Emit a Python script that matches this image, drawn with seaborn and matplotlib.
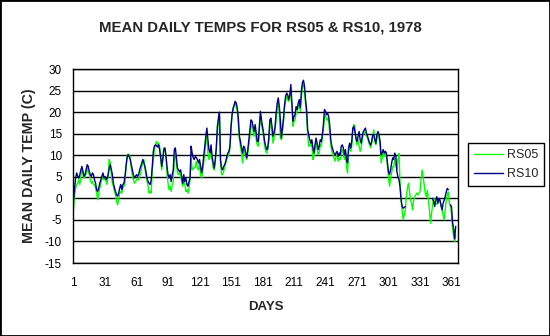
import numpy as np
import pandas as pd
import matplotlib
matplotlib.use("Agg")
import matplotlib.pyplot as plt
from matplotlib.patches import Rectangle
import seaborn as sns

nan = np.nan

series_names = ["RS05", "RS10"]
series_colors = ["#00FF00", "#000080"]
x_tick_days = list(range(1, 362, 30))
y_ticks = list(range(-15, 31, 5))

rs10 = [
    -0.3, 2.4, 4.7, 5.9, 5.1, 4.7, 5.5, 6.6, 7.4, 6.2,
    5.1, 5.5, 6.6, 7.8, 7.4, 6.2, 5.5, 5.1, 5.9, 5.5,
    4.3, 3.5, 2.0, 1.6, 2.4, 3.5, 4.3, 5.1, 5.9, 4.7,
    5.1, 4.3, 4.7, 5.5, 7.0, 7.8, 6.6, 5.5, 3.5, 2.4,
    1.6, 0.8, 0.5, 1.2, 2.4, 3.2, 2.0, 3.2, 3.5, 5.1,
    7.4, 9.4, 10.1, 9.7, 9.0, 7.8, 6.6, 5.5, 4.7, 5.1,
    5.5, 5.1, 5.5, 6.6, 7.4, 8.2, 9.0, 8.2, 7.4, 6.2,
    4.7, 3.9, 3.5, 3.2, 4.3, 7.4, 10.9, 12.1, 12.4, 12.2,
    11.9, 12.4, 11.3, 9.7,
    7.4, 9.0, 11.3, 11.7, 10.1, 7.4,
    5.5, 4.7, 5.5, 3.9, 5.5, 6.6, 11.3, 11.7, 9.4, 7.0,
    6.6, 6.2, 6.6, 5.1, 3.5, 5.5, 3.9, 4.7, 3.2, 2.8,
    3.9, 4.7, 12.1, 10.5, 9.4, 9.0, 9.7, 9.4, 9.0, 8.2,
    9.0, 7.4, 5.9, 7.4, 9.7, 12.1, 14.4, 16.3, 13.6, 11.3,
    10.5, 12.4, 9.7, 8.2, 7.0, 9.0, 11.7, 16.7, 18.6, 20.0,
    9.0, 7.0, 6.6, 7.4, 7.8, 8.6, 9.7, 10.5, 10.9, 12.1,
    16.7, 19.4, 20.9, 21.7, 22.5, 22.1, 20.9, 18.6, 14.4, 13.2,
    11.7, 10.5, 12.1, 11.7, 10.5, 9.4, 11.3, 13.6, 15.9, 18.2,
    17.9, 16.7, 15.5, 17.1, 15.2, 13.2, 13.2, 16.7, 20.2, 18.2,
    16.7, 15.2, 13.2, 12.1, 11.3, 11.7, 14.0, 18.2, 18.6, 16.7,
    14.4, 15.2, 16.7, 19.8, 22.1, 23.3, 21.3, 18.2, 14.0, 16.3,
    18.6, 21.7, 23.7, 24.4, 24.0, 22.9, 24.0, 26.4, 22.1, 17.9,
    19.0, 19.4, 21.3, 20.6, 22.1, 22.9, 21.0, 24.8, 26.8, 27.4,
    26.0, 22.9, 20.6, 15.9, 14.8, 13.6, 12.8, 13.6, 11.7, 10.5,
    12.4, 14.0, 12.8, 11.3, 12.1, 13.6, 13.2, 14.8, 17.1, 20.6,
    20.2, 19.4, 19.8, 19.0, 17.1, 13.6, 12.1, 11.3, 10.5, 10.1,
    10.5, 10.9, 9.7, 10.5, 10.1,
    12.1, 12.4, 11.7, 10.1, 11.3, 9.0, 8.2, 11.7, 12.8, 11.7,
    13.2, 16.3, 16.7, 15.5, 14.0, 13.2, 14.4, 15.5, 13.6, 12.8,
    14.4, 15.5, 15.9, 16.3, 15.1, 14.4, 13.6, 12.8, 12.4, 13.2,
    14.8, 14.8, 13.6, 12.8, 14.8, 15.5, 14.8, 13.2, 10.1, 10.5,
    11.3, 10.5, 10.9, 10.5, 8.2, 6.2, 5.5, 6.6, 8.2, 9.4,
    9.0, 10.5, 9.7, 6.2, 5.0, 4.3, 2.7, -0.3, -1.9, -2.3, -2.1, -1.9,
    nan, nan, nan, nan, nan, nan, nan, nan, nan, nan,
    nan, nan, nan, nan, nan, nan, nan, nan, nan, nan,
    nan, nan, nan, nan, nan,
    0.0, -0.8, -1.9, -0.4, 0.4, -1.2, 0.0, -0.4, -1.5, -2.7,
    -1.2, -0.4, 0.4, 1.5, 2.3, 2.0,
    nan,
    -1.5, -1.9, -5.5, -7.0, -9.4, -6.5,
]

rs05 = [
    -2.6, 0.5, 2.4, 3.2, 3.5, 4.3, 3.2, 5.1, 6.6, 5.5,
    4.7, 5.1, 5.9, 7.0, 6.2, 5.5, 4.3, 3.5, 3.9, 3.2,
    3.2, 2.4, 1.2, -0.3, 1.2, 2.4, 3.5, 4.3, 5.1, 4.3,
    4.7, 3.9, 3.2, 5.5, 9.0, 8.2, 5.5, 3.5, 2.8, 1.6,
    0.8, -0.7, -1.5, -0.3, 1.2, 1.6, 1.2, 2.4, 2.8, 3.5,
    7.4, 9.7, 10.3, 10.1, 9.4, 7.0, 5.5, 4.3, 3.5, 3.9,
    4.3, 4.7, 4.3, 5.1, 5.9, 7.4, 8.2, 9.0, 7.0, 5.1,
    3.9, 2.8, 1.2, 1.6, 1.2, 6.6, 9.0, 11.3, 12.4, 13.2,
    12.4, 12.8, 12.1, 9.0,
    6.6, 9.0, 11.7, 11.3, 10.1, 5.9,
    3.5, 2.0, 2.8, 1.6, 3.2, 3.9, 9.7, 10.1, 8.2, 5.9,
    5.5, 6.2, 5.1, 3.9, 2.8, 4.3, 3.2, 1.6, 2.0, 1.2,
    2.4, 4.3, 9.4, 6.6, 7.0, 7.0, 7.4, 8.6, 7.0, 6.6,
    8.2, 5.5, 4.7, 6.2, 8.2, 10.5, 13.2, 14.4, 10.5, 9.0,
    9.4, 10.9, 9.0, 7.0, 6.6, 8.2, 11.7, 15.5, 17.1, 19.0,
    8.2, 5.5, 5.5, 6.2, 7.4, 8.2, 9.0, 9.7, 10.1, 11.7,
    15.9, 19.4, 20.6, 21.3, 22.3, 21.3, 20.2, 17.1, 13.6, 12.1,
    10.5, 8.2, 11.3, 10.5, 9.7, 9.0, 10.5, 12.4, 14.4, 17.1,
    16.7, 15.5, 14.4, 15.9, 13.6, 12.4, 12.1, 15.9, 19.0, 17.1,
    15.9, 14.4, 12.1, 10.9, 10.5, 11.3, 13.2, 16.7, 17.9, 15.5,
    12.8, 14.0, 15.9, 18.6, 21.0, 22.1, 19.4, 14.0, 13.6, 15.5,
    17.9, 21.0, 22.5, 23.7, 22.9, 22.5, 23.3, 24.4, 21.3, 16.7,
    17.9, 18.2, 19.8, 20.2, 21.0, 22.1, 20.2, 23.3, 26.0, 26.4,
    25.2, 21.7, 19.4, 14.8, 12.1, 12.4, 12.1, 12.8, 9.0, 9.7,
    11.3, 13.2, 11.3, 10.1, 10.5, 12.4, 12.1, 14.0, 15.9, 19.0,
    19.4, 18.2, 18.6, 17.5, 15.5, 12.4, 10.9, 10.1, 9.4, 8.6,
    9.7, 10.1, 8.6, 9.4, 9.0,
    10.9, 11.3, 10.1, 9.0, 10.5, 7.4, 5.9, 10.9, 12.4, 10.9,
    12.1, 15.5, 17.1, 16.7, 13.6, 12.4, 13.6, 12.1, 10.9, 11.7,
    13.6, 14.8, 15.5, 15.1, 14.4, 14.0, 13.2, 12.4, 11.7, 12.8,
    14.4, 15.9, 13.2, 12.4, 14.0, 15.1, 14.0, 12.1, 8.2, 9.4,
    10.5, 9.7, 10.5, 9.7, 7.4, 4.7, 2.8, 4.7, 5.9, 7.4,
    7.3, 9.0, 7.7, 6.6, 9.0, 10.4, 3.5, -0.5,
    -2.7, -5.0, -3.9, -2.7, 0.4, 2.3, 3.5, 1.5, -0.4, -1.2,
    -2.7, -0.4, 0.4, 0.8, 1.2, 0.8, 1.2, 1.5, 4.3, 6.6,
    5.0, 3.1, 1.2, 0.4, 1.9, -0.4, -2.7, -5.8, -3.5, -1.5,
    0.0, -0.4, -1.5, -1.2, -0.4, -0.8, -0.4, -1.9, -2.3, -3.9,
    -5.0, -2.7, -0.4, 0.8, 1.5, -1.2, -1.9, -3.5, -7.0, -8.6,
    -10.0, -8.5,
]

days = np.arange(1, len(rs05) + 1)

# long-form table; "seg" splits each series at missing values so gaps stay gaps
frames = []
for name, vals in zip(series_names, [rs05, rs10]):
    v = np.asarray(vals, dtype=float)
    seg = np.cumsum(np.isnan(v))
    frames.append(pd.DataFrame({"day": days, "temp": v, "series": name,
                                "seg": [f"{name}-{s}" for s in seg]}))
df = pd.concat(frames, ignore_index=True).dropna(subset=["temp"])

sns.set_style("white")
plt.rcParams["font.family"] = ["Liberation Sans", "DejaVu Sans"]

fig = plt.figure(figsize=(5.5, 3.36), dpi=100)
ax = fig.add_axes([73 / 550, 73 / 336, 385 / 550, 194 / 336])

sns.lineplot(data=df, x="day", y="temp", hue="series", units="seg",
             estimator=None, hue_order=series_names,
             palette=dict(zip(series_names, series_colors)),
             linewidth=1.0, ax=ax, legend=True)

ax.set_xlim(0.5, 367.2)
ax.set_ylim(-15, 30)
ax.set_xticks(x_tick_days)
ax.set_xticklabels([str(d) for d in x_tick_days])
ax.set_yticks(y_ticks)
ax.set_yticklabels([str(t) for t in y_ticks])
ax.yaxis.grid(True, color="black", linewidth=1.0)
ax.xaxis.grid(False)
ax.set_axisbelow(True)
for s in ax.spines.values():
    s.set_color("black")
    s.set_linewidth(1.0)
ax.tick_params(axis="both", direction="out", length=4, width=1, color="black",
               labelsize=8.5, labelcolor="black")
ax.tick_params(axis="x", pad=6)
ax.tick_params(axis="y", pad=4)
ax.set_xlabel("DAYS", fontsize=9.5, fontweight="bold", labelpad=9)
ax.set_ylabel("MEAN DAILY TEMP (C)", fontsize=10.3, fontweight="bold", labelpad=6)

handles, labels = ax.get_legend_handles_labels()
ax.get_legend().remove()
fig.legend(handles, labels, loc="upper left",
           bbox_to_anchor=(468 / 550, 1 - 143 / 336),
           frameon=True, fancybox=False, edgecolor="black", framealpha=1,
           fontsize=9, handlelength=2.3, handletextpad=0.3,
           borderpad=0.5, labelspacing=0.55, borderaxespad=0)

fig.text(260 / 550, 1 - 27 / 336, "MEAN DAILY TEMPS FOR RS05 & RS10, 1978",
         ha="center", va="center", fontsize=10.8, fontweight="bold")

fig.add_artist(Rectangle((0, 0), 1, 1, transform=fig.transFigure, fill=False,
                         edgecolor="black", linewidth=2))

fig.savefig("out.png", dpi=100, facecolor="white")
